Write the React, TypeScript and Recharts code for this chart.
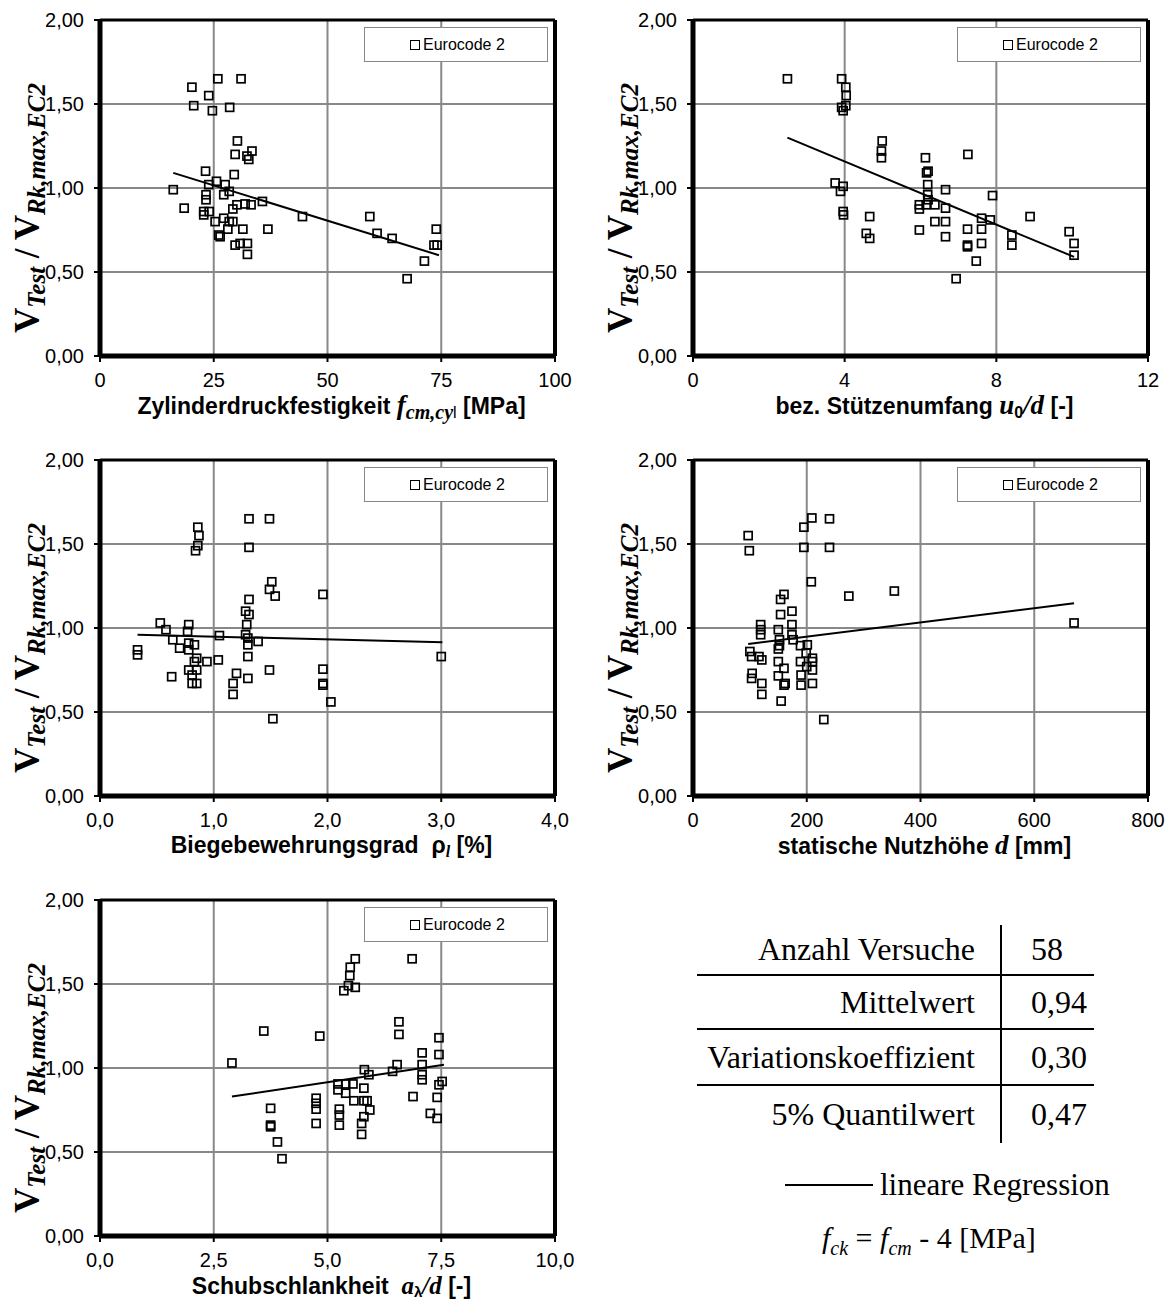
import React from 'react';
import { ScatterChart, Scatter, XAxis, YAxis, CartesianGrid, ReferenceLine } from 'recharts';

// V_Test / V_Rk,max,EC2 over the five parameters
const fcmPoints = [
  [16.1, 0.99], [18.5, 0.88], [20.2, 1.6], [20.6, 1.49], [23.9, 1.55], [24.7, 1.46], [25.9, 1.65], [31.0, 1.65],
  [28.5, 1.48], [30.2, 1.28], [29.7, 1.2], [33.4, 1.22], [32.3, 1.19], [32.7, 1.17], [23.2, 1.1], [29.5, 1.08],
  [23.9, 1.02], [25.6, 1.04], [27.5, 1.02], [28.4, 0.98], [23.3, 0.96], [23.3, 0.93], [27.2, 0.96], [30.1, 0.9],
  [31.9, 0.905], [33.2, 0.9], [35.7, 0.92], [29.2, 0.875], [22.8, 0.86], [24.0, 0.86], [22.8, 0.84], [27.2, 0.82],
  [25.3, 0.8], [29.2, 0.8], [28.4, 0.8], [28.1, 0.755], [31.4, 0.755], [36.9, 0.755], [26.1, 0.72], [26.4, 0.71],
  [29.7, 0.66], [30.8, 0.67], [32.4, 0.67], [32.4, 0.605], [44.5, 0.83], [59.3, 0.83], [60.9, 0.73], [64.2, 0.7],
  [73.9, 0.755], [73.4, 0.66], [74.1, 0.66], [71.3, 0.565], [67.5, 0.46],
];
const fcmRegression = [[16.1, 1.09], [74.5, 0.6]];

const u0dPoints = [
  [2.49, 1.65], [3.92, 1.65], [4.03, 1.6], [4.04, 1.55], [4.03, 1.49], [3.92, 1.48], [3.96, 1.46], [4.99, 1.28],
  [4.97, 1.22], [4.97, 1.18], [3.75, 1.03], [3.96, 1.01], [3.89, 0.98], [3.96, 0.86], [3.97, 0.84], [4.66, 0.83],
  [4.57, 0.73], [4.66, 0.7], [6.13, 1.18], [6.16, 1.09], [6.2, 1.1], [6.19, 1.02], [6.19, 0.96], [5.97, 0.9],
  [5.97, 0.875], [6.15, 0.9], [6.38, 0.9], [6.66, 0.99], [6.66, 0.88], [6.38, 0.8], [6.66, 0.8], [5.97, 0.75],
  [6.66, 0.71], [6.2, 0.93], [7.25, 1.2], [7.9, 0.955], [7.61, 0.82], [7.84, 0.81], [7.24, 0.755], [7.61, 0.755],
  [7.24, 0.66], [7.24, 0.65], [7.61, 0.67], [7.47, 0.565], [6.94, 0.46], [8.89, 0.83], [8.41, 0.72], [8.41, 0.66],
  [9.92, 0.74], [10.05, 0.67], [10.05, 0.6],
];
const u0dRegression = [[2.49, 1.3], [10.05, 0.59]];

const rhoPoints = [
  [0.33, 0.87], [0.33, 0.84], [0.53, 1.03], [0.58, 0.99], [0.64, 0.93], [0.7, 0.88], [0.63, 0.71], [0.78, 1.02],
  [0.77, 0.98], [0.78, 0.91], [0.83, 0.9], [0.78, 0.87], [0.85, 0.82], [0.83, 0.8], [0.94, 0.8], [1.04, 0.81],
  [0.78, 0.75], [0.85, 0.75], [0.81, 0.72], [0.81, 0.67], [0.85, 0.67], [0.86, 1.6], [0.87, 1.55], [0.86, 1.49],
  [0.84, 1.46], [1.05, 0.955], [1.2, 0.73], [1.17, 0.67], [1.17, 0.605], [1.31, 1.65], [1.49, 1.65], [1.31, 1.48],
  [1.51, 1.275], [1.49, 1.23], [1.54, 1.19], [1.31, 1.17], [1.28, 1.1], [1.31, 1.08], [1.29, 1.02], [1.28, 0.96],
  [1.3, 0.94], [1.3, 0.9], [1.39, 0.92], [1.3, 0.83], [1.49, 0.75], [1.3, 0.7], [1.52, 0.46], [1.96, 1.2],
  [1.96, 0.755], [1.96, 0.67], [1.96, 0.66], [2.03, 0.56], [3.0, 0.83],
];
const rhoRegression = [[0.33, 0.96], [3.01, 0.915]];

const dPoints = [
  [97, 1.55], [99, 1.46], [195, 1.6], [195, 1.48], [240, 1.48], [209, 1.655], [240, 1.65], [208, 1.275],
  [274, 1.19], [354, 1.22], [670, 1.03], [160, 1.2], [154, 1.17], [154, 1.08], [174, 1.1], [174, 1.02],
  [119, 1.02], [119, 0.99], [119, 0.96], [150, 0.99], [174, 0.96], [176, 0.93], [152, 0.93], [152, 0.895],
  [150, 0.875], [189, 0.895], [201, 0.9], [199, 0.85], [100, 0.86], [103, 0.83], [116, 0.83], [121, 0.81],
  [150, 0.8], [160, 0.76], [189, 0.8], [210, 0.82], [210, 0.8], [210, 0.75], [200, 0.77], [104, 0.73],
  [103, 0.7], [150, 0.715], [190, 0.72], [190, 0.66], [121, 0.67], [121, 0.605], [160, 0.66], [162, 0.67],
  [210, 0.67], [155, 0.565], [230, 0.455],
];
const dRegression = [[97, 0.905], [670, 1.147]];

const adPoints = [
  [2.9, 1.03], [3.6, 1.22], [3.75, 0.76], [3.75, 0.66], [3.75, 0.65], [3.9, 0.56], [4.0, 0.46], [4.83, 1.19],
  [5.61, 1.65], [5.5, 1.6], [5.49, 1.55], [5.46, 1.49], [5.61, 1.48], [5.36, 1.46], [6.86, 1.65], [6.57, 1.275],
  [6.57, 1.2], [7.45, 1.18], [7.45, 1.08], [7.08, 1.09], [7.08, 1.02], [7.08, 0.96], [7.08, 0.93], [6.53, 1.02],
  [6.43, 0.98], [7.52, 0.92], [7.45, 0.9], [7.41, 0.825], [6.88, 0.83], [7.26, 0.73], [7.41, 0.7], [5.81, 0.99],
  [5.91, 0.96], [5.23, 0.905], [5.23, 0.87], [5.4, 0.905], [5.4, 0.85], [5.56, 0.905], [5.58, 0.805], [5.8, 0.88],
  [5.8, 0.805], [5.87, 0.805], [5.93, 0.75], [5.8, 0.71], [5.75, 0.67], [5.75, 0.605], [5.26, 0.755], [5.26, 0.72],
  [5.26, 0.66], [4.75, 0.82], [4.75, 0.79], [4.75, 0.755], [4.75, 0.67],
];
const adRegression = [[2.9, 0.83], [7.56, 1.02]];

const yTicks = [0, 0.5, 1, 1.5, 2];
const fcmTicks = [0, 25, 50, 75, 100];
const u0dTicks = [0, 4, 8, 12];
const rhoTicks = [0, 1, 2, 3, 4];
const dTicks = [0, 200, 400, 600, 800];
const adTicks = [0, 2.5, 5, 7.5, 10];

const tableRows = ['Anzahl Versuche', 'Mittelwert', 'Variationskoeffizient', '5% Quantilwert'];
const tableValues = ['58', '0,94', '0,30', '0,47'];

const SANS = "'Liberation Sans', Arial, sans-serif";
const SERIF = "'Liberation Serif', 'Times New Roman', serif";

const PW = 455;
const PH = 336;

const toXY = (pts: number[][]) => pts.map(([x, y]) => ({ x, y }));
const comma = (d: number) => (v: number) => v.toFixed(d).replace('.', ',');

const Box = (p: any) => (
  <rect x={p.cx - 4} y={p.cy - 4} width={8} height={8} fill="none" stroke="#000" strokeWidth={1.7} />
);
const Nothing = () => <g />;

const sub = (size: number, italic = true): React.CSSProperties => ({
  fontSize: size, fontStyle: italic ? 'italic' : 'normal', position: 'relative', top: '0.25em',
});

type PanelProps = {
  left: number; top: number; pts: number[][]; reg: number[][];
  ticks: number[]; fmt: (v: number) => string; title: React.ReactNode;
};

const Panel = ({ left, top, pts, reg, ticks, fmt, title }: PanelProps) => {
  const xMax = ticks[ticks.length - 1];
  return (
    <>
      <div style={{ position: 'absolute', left: left - 100, top: top - 20 }}>
        <ScatterChart width={100 + PW + 30} height={20 + PH + 40} margin={{ top: 20, right: 30, bottom: 0, left: 40 }}>
          <CartesianGrid stroke="#888" strokeWidth={2} />
          <XAxis type="number" dataKey="x" domain={[0, xMax]} ticks={ticks} tickFormatter={fmt} height={40}
            axisLine={{ stroke: '#000', strokeWidth: 5 }} tickLine={{ stroke: '#000', strokeWidth: 2 }} tickSize={6}
            tickMargin={11} tick={{ fontFamily: SANS, fontSize: 20, fill: '#000' }} allowDataOverflow />
          <YAxis type="number" dataKey="y" domain={[0, 2]} ticks={yTicks} tickFormatter={comma(2)} width={60}
            axisLine={{ stroke: '#000', strokeWidth: 5 }} tickLine={{ stroke: '#000', strokeWidth: 2 }} tickSize={6}
            tickMargin={10} tick={{ fontFamily: SANS, fontSize: 20, fill: '#000' }} allowDataOverflow />
          <ReferenceLine y={2} stroke="#000" strokeWidth={3} />
          <ReferenceLine x={xMax} stroke="#000" strokeWidth={4} />
          <Scatter name="Eurocode 2" data={toXY(pts)} shape={Box} isAnimationActive={false} />
          <Scatter data={toXY(reg)} line={{ stroke: '#000', strokeWidth: 2 }} shape={Nothing} isAnimationActive={false} />
        </ScatterChart>
      </div>

      {/* legend box */}
      <div style={{
        position: 'absolute', left: left + 264, top: top + 7, width: 184, height: 35, boxSizing: 'border-box',
        border: '1px solid #888', background: '#fff', fontFamily: SANS, fontSize: 16, display: 'flex', alignItems: 'center',
        paddingLeft: 45,
      }}>
        <span style={{ display: 'inline-block', width: 8, height: 8, border: '1.6px solid #000', marginRight: 3 }} />
        Eurocode 2
      </div>

      {/* y title */}
      <div style={{
        position: 'absolute', left: left - 73, top: top + 188, transform: 'translate(-50%, -50%) rotate(-90deg)',
        whiteSpace: 'nowrap', fontFamily: SERIF, fontWeight: 'bold', fontSize: 35, lineHeight: 1,
      }}>
        V<span style={sub(25)}>Test</span> / V<span style={sub(25)}>Rk,max,EC2</span>
      </div>

      {/* x title */}
      <div style={{
        position: 'absolute', left: left + PW / 2 + 4, top: top + PH + 49, transform: 'translate(-50%, -50%)',
        whiteSpace: 'nowrap', fontFamily: SANS, fontWeight: 'bold', fontSize: 23, lineHeight: 1,
      }}>
        {title}
      </div>
    </>
  );
};

const it = (t: string, size = 25): React.ReactNode => (
  <span style={{ fontFamily: SERIF, fontStyle: 'italic', fontSize: size }}>{t}</span>
);

export default function App() {
  return (
    <div style={{ position: 'absolute', left: 0, top: 0, width: 1172, height: 1300, background: '#fff', overflow: 'hidden' }}>
      <Panel left={100} top={20} pts={fcmPoints} reg={fcmRegression} ticks={fcmTicks} fmt={(v) => String(v)}
        title={<>Zylinderdruckfestigkeit {it('f', 27)}<span style={{ ...sub(20), fontFamily: SERIF }}>cm,cy</span><span style={{ ...sub(16, false), fontWeight: 'normal' }}>l</span> [MPa]</>} />
      <Panel left={693} top={20} pts={u0dPoints} reg={u0dRegression} ticks={u0dTicks} fmt={(v) => String(v)}
        title={<>bez. Stützenumfang {it('u', 27)}<span style={{ ...sub(16, false) }}>0</span>{it('/d', 27)} [-]</>} />
      <Panel left={100} top={460} pts={rhoPoints} reg={rhoRegression} ticks={rhoTicks} fmt={comma(1)}
        title={<>Biegebewehrungsgrad&nbsp; ρ<span style={{ ...sub(16), fontFamily: SERIF }}>l</span> [%]</>} />
      <Panel left={693} top={460} pts={dPoints} reg={dRegression} ticks={dTicks} fmt={(v) => String(v)}
        title={<>statische Nutzhöhe {it('d', 27)} [mm]</>} />
      <Panel left={100} top={900} pts={adPoints} reg={adRegression} ticks={adTicks} fmt={comma(1)}
        title={<>Schubschlankheit&nbsp; {it('a')}<span style={{ fontSize: 15, position: 'relative', top: '0.2em' }}>λ</span>{it('/d')} [-]</>} />

      {/* statistics table */}
      <svg width={1172} height={1300} style={{ position: 'absolute', left: 0, top: 0, pointerEvents: 'none' }}>
        {[975, 1029, 1085].map((y) => (
          <line key={y} x1={697} x2={1094} y1={y} y2={y} stroke="#000" strokeWidth={2} />
        ))}
        <line x1={1001} x2={1001} y1={925} y2={1143} stroke="#000" strokeWidth={2} />
        {tableRows.map((r, i) => (
          <text key={r} x={975} y={[960, 1013, 1068, 1125][i]} textAnchor="end" fontFamily={SERIF} fontSize={32}>{r}</text>
        ))}
        {tableValues.map((v, i) => (
          <text key={i} x={1031} y={[960, 1013, 1068, 1125][i]} fontFamily={SERIF} fontSize={32}>{v}</text>
        ))}
        <line x1={785} x2={873} y1={1185} y2={1185} stroke="#000" strokeWidth={2} />
        <text x={880} y={1195} fontFamily={SERIF} fontSize={31}>lineare Regression</text>
        <text x={822} y={1248} fontFamily={SERIF} fontSize={30}>
          <tspan fontStyle="italic">f</tspan><tspan fontStyle="italic" fontSize={20} dy={7}>ck</tspan>
          <tspan dy={-7}> = </tspan><tspan fontStyle="italic">f</tspan>
          <tspan fontStyle="italic" fontSize={20} dy={7}>cm</tspan><tspan dy={-7}> - 4 [MPa]</tspan>
        </text>
      </svg>
    </div>
  );
}
